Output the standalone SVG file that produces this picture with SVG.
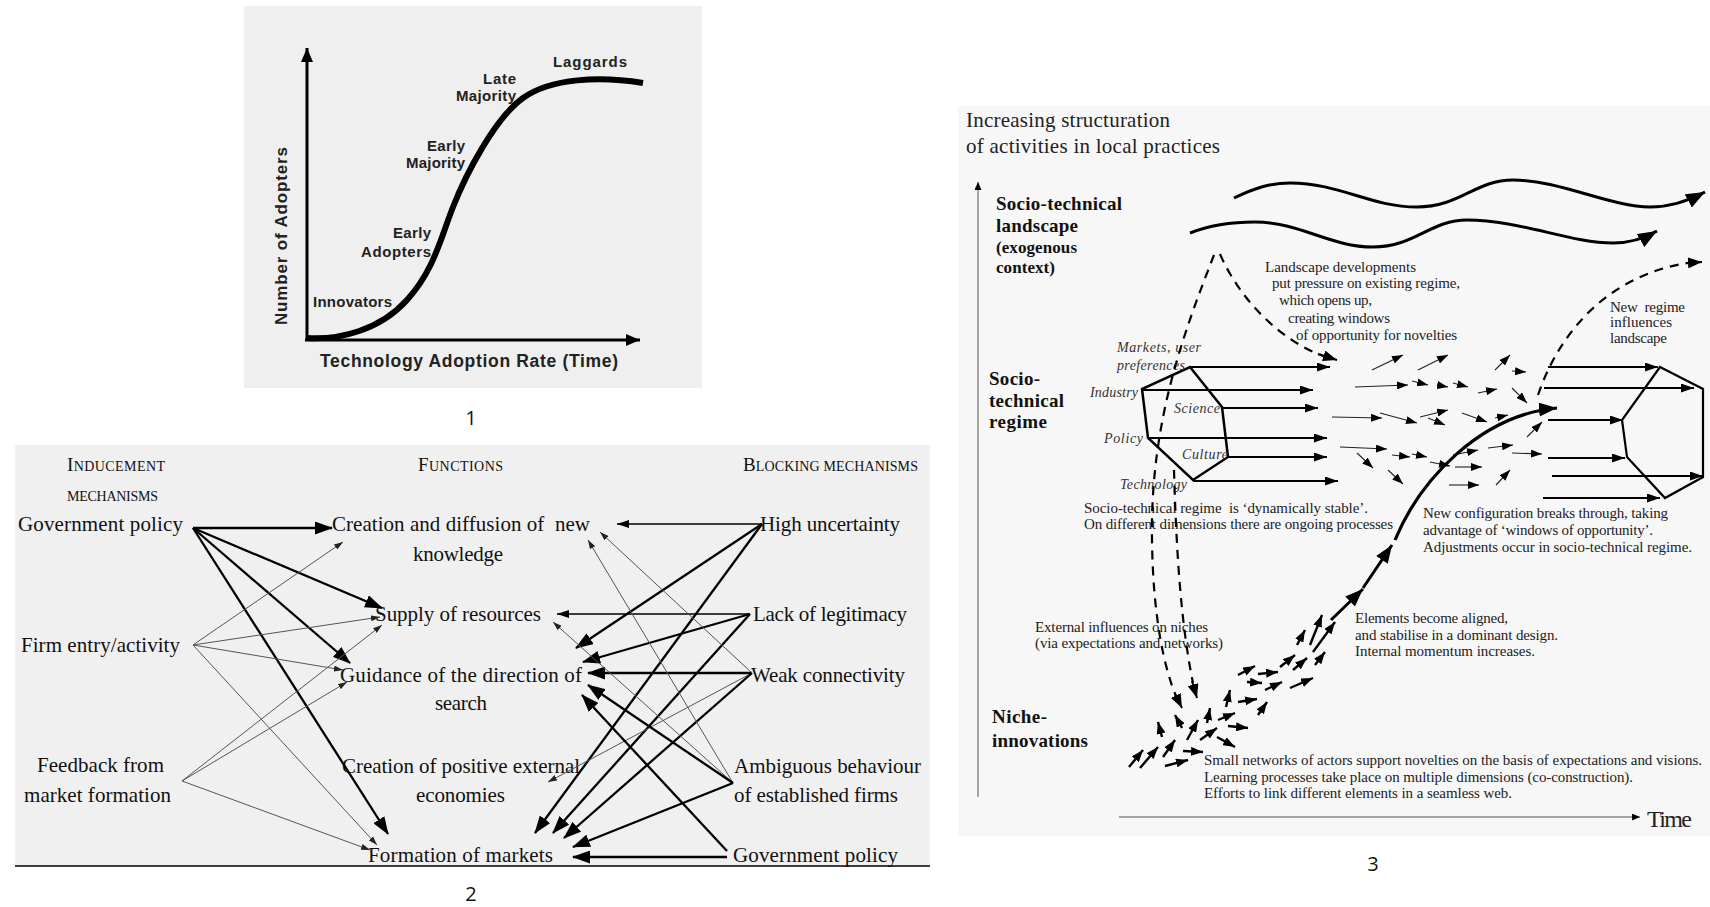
<svg xmlns="http://www.w3.org/2000/svg" width="1710" height="907" viewBox="0 0 1710 907">
<style>
.p1t{font-family:"Liberation Sans",Arial,sans-serif;font-weight:bold;fill:#222}
.p2t{font-family:"Liberation Serif","Times New Roman",serif;font-size:21px;fill:#111}
.p3t{font-family:"Liberation Serif","Times New Roman",serif;font-size:15px;fill:#222}
.p3b{font-family:"Liberation Serif","Times New Roman",serif;font-weight:bold;font-size:19px;fill:#111}
.p3i{font-family:"Liberation Serif","Times New Roman",serif;font-style:italic;font-size:14px;fill:#333}
.cap{font-family:"Open Sans","Liberation Sans",sans-serif;font-size:20px;fill:#111}
.thick{fill:none;stroke:#000;stroke-width:2.3;marker-end:url(#mbig)}
.med{fill:none;stroke:#000;stroke-width:1.6;marker-end:url(#mmed)}
.thin{fill:none;stroke:#555;stroke-width:1;marker-end:url(#mthin)}
.sm{fill:none;stroke:#222;stroke-width:1.1;marker-end:url(#msmall)}
.ni{fill:none;stroke:#000;stroke-width:2.4;marker-end:url(#mniche)}
.hx{fill:none;stroke:#000;stroke-width:2.2;marker-end:url(#mhex)}
.dash{fill:none;stroke:#000;stroke-width:2.2;stroke-dasharray:9 7}
</style>
<defs>
<marker id="mbig" viewBox="0 0 18 13" refX="17" refY="6.5" markerWidth="18" markerHeight="13" markerUnits="userSpaceOnUse" orient="auto"><path d="M0,0 L18,6.5 L0,13 z" fill="#000"/></marker>
<marker id="mmed" viewBox="0 0 12 8" refX="12" refY="4" markerWidth="12" markerHeight="8" markerUnits="userSpaceOnUse" orient="auto"><path d="M0,0 L12,4 L0,8 z" fill="#000"/></marker>
<marker id="mthin" viewBox="0 0 9 6" refX="9" refY="3" markerWidth="9" markerHeight="6" markerUnits="userSpaceOnUse" orient="auto"><path d="M0,0 L9,3 L0,6 z" fill="#222"/></marker>
<marker id="max" viewBox="0 0 14 12" refX="14" refY="6" markerWidth="14" markerHeight="12" markerUnits="userSpaceOnUse" orient="auto"><path d="M0,0 L14,6 L0,12 z" fill="#000"/></marker>
<marker id="mwave" viewBox="0 0 19 15" refX="19" refY="7.5" markerWidth="19" markerHeight="15" markerUnits="userSpaceOnUse" orient="auto"><path d="M0,0 L19,7.5 L0,15 z" fill="#000"/></marker>
<marker id="mdash" viewBox="0 0 14 11" refX="14" refY="5.5" markerWidth="14" markerHeight="11" markerUnits="userSpaceOnUse" orient="auto"><path d="M0,0 L14,5.5 L0,11 z" fill="#000"/></marker>
<marker id="mhex" viewBox="0 0 13 9" refX="13" refY="4.5" markerWidth="13" markerHeight="9" markerUnits="userSpaceOnUse" orient="auto"><path d="M0,0 L13,4.5 L0,9 z" fill="#000"/></marker>
<marker id="msmall" viewBox="0 0 11 8" refX="11" refY="4" markerWidth="11" markerHeight="8" markerUnits="userSpaceOnUse" orient="auto"><path d="M0,0 L11,4 L0,8 z" fill="#000"/></marker>
<marker id="mniche" viewBox="0 0 12 9" refX="12" refY="4.5" markerWidth="12" markerHeight="9" markerUnits="userSpaceOnUse" orient="auto"><path d="M0,0 L12,4.5 L0,9 z" fill="#000"/></marker>
<marker id="mtraj" viewBox="0 0 18 14" refX="18" refY="7" markerWidth="18" markerHeight="14" markerUnits="userSpaceOnUse" orient="auto"><path d="M0,0 L18,7 L0,14 z" fill="#000"/></marker>
<marker id="mtiny" viewBox="0 0 8 7" refX="8" refY="3.5" markerWidth="8" markerHeight="7" markerUnits="userSpaceOnUse" orient="auto"><path d="M0,0 L8,3.5 L0,7 z" fill="#000"/></marker>
</defs>

<rect width="1710" height="907" fill="#fff"/>

<!-- ===== Panel 1 ===== -->
<g id="panel1">
<rect x="244" y="6" width="458" height="382" fill="#efefef"/>
<g id="p1-axes">
<line x1="307" y1="341" x2="307" y2="48" stroke="#000" stroke-width="3" marker-end="url(#max)"/>
<line x1="305" y1="340" x2="640" y2="340" stroke="#000" stroke-width="3" marker-end="url(#max)"/>
</g>
<g id="p1-curve">
<path d="M307,338 C340,340 380,330 407,300 S440,240 453,207 S495,118 523,98 C551,78 600,76 643,83" fill="none" stroke="#000" stroke-width="6"/>
</g>
<g id="p1-labels">
<text class="p1t" x="553" y="67" style="font-size:15px" textLength="74">Laggards</text>
<text class="p1t" x="483" y="84" style="font-size:15px" textLength="33">Late</text>
<text class="p1t" x="456" y="101" style="font-size:15px" textLength="60">Majority</text>
<text class="p1t" x="427" y="151" style="font-size:15px" textLength="38">Early</text>
<text class="p1t" x="406" y="168" style="font-size:15px" textLength="59">Majority</text>
<text class="p1t" x="393" y="238" style="font-size:15px" textLength="38">Early</text>
<text class="p1t" x="361" y="257" style="font-size:15px" textLength="70">Adopters</text>
<text class="p1t" x="313" y="307" style="font-size:15px" textLength="79">Innovators</text>
<text class="p1t" x="320" y="367" style="font-size:17.5px" textLength="298">Technology Adoption Rate (Time)</text>
<text class="p1t" transform="translate(287,325) rotate(-90)" style="font-size:17px" textLength="178">Number of Adopters</text>
</g>
</g>
<text class="cap" x="471" y="425" text-anchor="middle">1</text>

<!-- ===== Panel 2 ===== -->
<g id="panel2">
<rect x="15" y="445" width="915" height="421" fill="#f0f0f0"/>
<line x1="15" y1="866" x2="930" y2="866" stroke="#000" stroke-width="1.5"/>

<g id="p2-headers">
<text class="p2t" x="67" y="471" textLength="98"><tspan style="font-size:19px">I</tspan><tspan style="font-size:14px">NDUCEMENT</tspan></text>
<text class="p2t" x="67" y="501" style="font-size:14px" textLength="91">MECHANISMS</text>
<text class="p2t" x="418" y="471" textLength="85"><tspan style="font-size:19px">F</tspan><tspan style="font-size:14px">UNCTIONS</tspan></text>
<text class="p2t" x="743" y="471" textLength="175"><tspan style="font-size:19px">B</tspan><tspan style="font-size:14px">LOCKING MECHANISMS</tspan></text>
</g>

<g id="ind-gov"><text class="p2t" x="18" y="531" textLength="165">Government policy</text></g>
<g id="ind-firm"><text class="p2t" x="21" y="652" textLength="159">Firm entry/activity</text></g>
<g id="ind-feedback"><text class="p2t" x="37" y="772" textLength="127">Feedback from</text><text class="p2t" x="24" y="802" textLength="147">market formation</text></g>

<g id="fn-knowledge"><text class="p2t" x="332" y="531" textLength="258" xml:space="preserve">Creation and diffusion of  new</text><text class="p2t" x="413" y="561" textLength="90">knowledge</text></g>
<g id="fn-resources"><text class="p2t" x="375" y="621" textLength="166">Supply of resources</text></g>
<g id="fn-guidance"><text class="p2t" x="340" y="682" textLength="242">Guidance of the direction of</text><text class="p2t" x="435" y="710" textLength="52">search</text></g>
<g id="fn-external"><text class="p2t" x="342" y="773" textLength="238">Creation of positive external</text><text class="p2t" x="416" y="802" textLength="89">economies</text></g>
<g id="fn-markets"><text class="p2t" x="368" y="862" textLength="185">Formation of markets</text></g>

<g id="bl-uncertainty"><text class="p2t" x="760" y="531" textLength="140">High uncertainty</text></g>
<g id="bl-legitimacy"><text class="p2t" x="753" y="621" textLength="154">Lack of legitimacy</text></g>
<g id="bl-connectivity"><text class="p2t" x="751" y="682" textLength="154">Weak connectivity</text></g>
<g id="bl-ambiguous"><text class="p2t" x="734" y="773" textLength="187">Ambiguous behaviour</text><text class="p2t" x="734" y="802" textLength="164">of established firms</text></g>
<g id="bl-gov"><text class="p2t" x="733" y="862" textLength="165">Government policy</text></g>

<g id="p2-connectors">
<line class="thick" x1="193" y1="528" x2="332" y2="528"/>
<line class="thick" x1="193" y1="528" x2="382" y2="608"/>
<line class="thick" x1="193" y1="528" x2="350" y2="663"/>
<line class="thick" x1="193" y1="528" x2="388" y2="834"/>
<line class="thin" x1="193" y1="645" x2="343" y2="542"/>
<line class="thin" x1="193" y1="645" x2="380" y2="617"/>
<line class="thin" x1="193" y1="645" x2="343" y2="670"/>
<line class="thin" x1="193" y1="645" x2="377" y2="845"/>
<line class="thin" x1="182" y1="781" x2="382" y2="625"/>
<line class="thin" x1="182" y1="781" x2="347" y2="682"/>
<line class="thin" x1="182" y1="781" x2="370" y2="850"/>

<line class="med" x1="762" y1="524" x2="617" y2="524"/>
<line class="thick" x1="762" y1="524" x2="576" y2="648"/>
<line class="thick" x1="762" y1="524" x2="535" y2="833"/>
<line class="med" x1="750" y1="614" x2="557" y2="614"/>
<line class="thick" x1="750" y1="614" x2="583" y2="662"/>
<line class="thick" x1="750" y1="614" x2="553" y2="833"/>
<line class="thick" x1="752" y1="673" x2="588" y2="673"/>
<line class="thin" x1="752" y1="673" x2="548" y2="782"/>
<line class="thick" x1="752" y1="673" x2="564" y2="838"/>
<line class="thin" x1="752" y1="673" x2="600" y2="532"/>
<line class="thin" x1="733" y1="783" x2="588" y2="540"/>
<line class="thin" x1="733" y1="783" x2="553" y2="622"/>
<line class="thick" x1="733" y1="783" x2="588" y2="685"/>
<line class="thick" x1="733" y1="783" x2="573" y2="847"/>
<line class="thick" x1="727" y1="851" x2="582" y2="695"/>
<line class="thick" x1="727" y1="857" x2="573" y2="857"/>
</g>
</g>
<text class="cap" x="471" y="901" text-anchor="middle">2</text>

<!-- ===== Panel 3 ===== -->
<g id="panel3">
<rect x="958" y="106" width="752" height="730" fill="#f7f7f7"/>

<g id="p3-axes">
<line x1="978" y1="797" x2="978" y2="182" stroke="#888" stroke-width="1.5" marker-end="url(#mtiny)"/>
<line x1="1119" y1="817" x2="1640" y2="817" stroke="#888" stroke-width="1.5" marker-end="url(#mtiny)"/>
<text class="p3t" x="1647" y="827" style="font-size:24px" textLength="45">Time</text>
</g>

<g id="p3-title">
<text class="p3t" x="966" y="127" style="font-size:21px" textLength="204">Increasing structuration</text>
<text class="p3t" x="966" y="153" style="font-size:21px" textLength="254">of activities in local practices</text>
</g>

<g id="landscape">
<text class="p3b" x="996" y="210" textLength="126">Socio-technical</text>
<text class="p3b" x="996" y="232" textLength="82">landscape</text>
<text class="p3b" x="996" y="253" style="font-size:17px" textLength="81">(exogenous</text>
<text class="p3b" x="996" y="273" style="font-size:17px" textLength="59">context)</text>
</g>
<g id="regime-label">
<text class="p3b" x="989" y="385" textLength="51">Socio-</text>
<text class="p3b" x="989" y="407" textLength="75">technical</text>
<text class="p3b" x="989" y="428" textLength="58">regime</text>
</g>
<g id="niche-label">
<text class="p3b" x="992" y="723" textLength="55">Niche-</text>
<text class="p3b" x="992" y="747" textLength="96">innovations</text>
</g>

<g id="waves">
<path d="M1234,198 C1255,188 1270,183 1290,183 C1340,183 1370,207 1417,207 C1460,207 1475,180 1513,180 C1560,180 1610,207 1650,207 C1672,207 1690,200 1705,192" fill="none" stroke="#000" stroke-width="3" marker-end="url(#mwave)"/>
<path d="M1190,233 C1210,225 1230,222 1255,222 C1300,222 1330,247 1373,247 C1415,247 1430,220 1467,220 C1520,220 1570,243 1613,243 C1630,243 1645,238 1657,231" fill="none" stroke="#000" stroke-width="3" marker-end="url(#mwave)"/>
</g>

<g id="landscape-text">
<text class="p3t" x="1265" y="272" textLength="151">Landscape developments</text>
<text class="p3t" x="1272" y="288" textLength="188">put pressure on existing regime,</text>
<text class="p3t" x="1279" y="305" textLength="93">which opens up,</text>
<text class="p3t" x="1288" y="323" textLength="102">creating windows</text>
<text class="p3t" x="1296" y="340" textLength="161">of opportunity for novelties</text>
</g>

<g id="regime-hexagon">
<polygon points="1190,367 1222,407 1228,457 1193,480 1148,438 1142,389" fill="none" stroke="#000" stroke-width="2.5" stroke-linejoin="miter"/>
<text class="p3i" x="1117" y="352" textLength="84">Markets, user</text>
<text class="p3i" x="1117" y="370" textLength="68">preferences</text>
<text class="p3i" x="1090" y="397" textLength="48">Industry</text>
<text class="p3i" x="1174" y="413" textLength="46">Science</text>
<text class="p3i" x="1104" y="443" textLength="39">Policy</text>
<text class="p3i" x="1182" y="459" textLength="46">Culture</text>
<text class="p3i" x="1120" y="489" textLength="67">Technology</text>
</g>

<g id="regime-text">
<text class="p3t" x="1084" y="513" textLength="284" xml:space="preserve">Socio-technical regime  is ‘dynamically stable’.</text>
<text class="p3t" x="1084" y="529" textLength="309">On different dimensions there are ongoing processes</text>
</g>

<g id="new-regime-hexagon">
<polygon points="1660,367 1703,389 1703,477 1665,498 1627,457 1622,420" fill="none" stroke="#000" stroke-width="2.2"/>
</g>
<g id="new-regime-text">
<text class="p3t" x="1610" y="312" textLength="75" xml:space="preserve">New  regime</text>
<text class="p3t" x="1610" y="327" textLength="62">influences</text>
<text class="p3t" x="1610" y="343" textLength="57">landscape</text>
</g>
<g id="breakthrough-text">
<text class="p3t" x="1423" y="518" textLength="245">New configuration breaks through, taking</text>
<text class="p3t" x="1423" y="535" textLength="230">advantage of ‘windows of opportunity’.</text>
<text class="p3t" x="1423" y="552" textLength="269">Adjustments occur in socio-technical regime.</text>
</g>
<g id="aligned-text">
<text class="p3t" x="1355" y="623" textLength="153">Elements become aligned,</text>
<text class="p3t" x="1355" y="640" textLength="203">and stabilise in a dominant design.</text>
<text class="p3t" x="1355" y="656" textLength="180">Internal momentum increases.</text>
</g>
<g id="external-text">
<text class="p3t" x="1035" y="632" textLength="173">External influences on niches</text>
<text class="p3t" x="1035" y="648" textLength="188">(via expectations and networks)</text>
</g>
<g id="niche-text">
<text class="p3t" x="1204" y="765" textLength="498">Small networks of actors support novelties on the basis of expectations and visions.</text>
<text class="p3t" x="1204" y="782" textLength="429">Learning processes take place on multiple dimensions (co-construction).</text>
<text class="p3t" x="1204" y="798" textLength="308">Efforts to link different elements in a seamless web.</text>
</g>

<g id="p3-connectors">
<!-- regime outputs -->
<line class="hx" x1="1190" y1="367" x2="1330" y2="367"/>
<line class="hx" x1="1142" y1="390" x2="1313" y2="390"/>
<line class="hx" x1="1222" y1="408" x2="1318" y2="408"/>
<line class="hx" x1="1148" y1="438" x2="1327" y2="438"/>
<line class="hx" x1="1228" y1="457" x2="1327" y2="457"/>
<line class="hx" x1="1193" y1="481" x2="1338" y2="481"/>
<!-- new regime inputs -->
<line class="hx" x1="1548" y1="367" x2="1658" y2="367"/>
<line class="hx" x1="1544" y1="388" x2="1694" y2="388"/>
<line class="hx" x1="1548" y1="420" x2="1623" y2="420"/>
<line class="hx" x1="1548" y1="458" x2="1625" y2="458"/>
<line class="hx" x1="1552" y1="476" x2="1703" y2="476"/>
<line class="hx" x1="1543" y1="498" x2="1660" y2="498"/>
<!-- dashed arrows -->
<path class="dash" d="M1220,254 C1240,300 1280,340 1323,356"/>
<line x1="1318" y1="354" x2="1337" y2="360" stroke="#000" stroke-width="2" marker-end="url(#mdash)"/>
<path class="dash" d="M1214,255 C1185,330 1150,420 1152,540 C1153,620 1165,670 1176,696"/>
<line x1="1175" y1="694" x2="1182" y2="708" stroke="#000" stroke-width="2" marker-end="url(#mdash)"/>
<path class="dash" d="M1174,470 C1176,540 1180,620 1193,683"/>
<line x1="1192" y1="681" x2="1197" y2="698" stroke="#000" stroke-width="2" marker-end="url(#mdash)"/>
<path class="dash" d="M1538,395 C1560,330 1610,275 1688,263"/>
<line x1="1686" y1="263" x2="1702" y2="262" stroke="#000" stroke-width="2" marker-end="url(#mdash)"/>
<!-- small regime arrows -->
<line class="sm" x1="1372" y1="370" x2="1403" y2="355"/>
<line class="sm" x1="1418" y1="370" x2="1448" y2="355"/>
<line class="sm" x1="1495" y1="370" x2="1510" y2="355"/>
<line class="sm" x1="1512" y1="371" x2="1526" y2="372"/>
<line class="sm" x1="1355" y1="387" x2="1408" y2="385"/>
<line class="sm" x1="1412" y1="381" x2="1428" y2="385"/>
<line class="sm" x1="1437" y1="385" x2="1448" y2="387"/>
<line class="sm" x1="1453" y1="383" x2="1468" y2="387"/>
<line class="sm" x1="1478" y1="393" x2="1497" y2="389"/>
<line class="sm" x1="1512" y1="388" x2="1527" y2="403"/>
<line class="sm" x1="1332" y1="417" x2="1382" y2="418"/>
<line class="sm" x1="1380" y1="413" x2="1417" y2="423"/>
<line class="sm" x1="1420" y1="417" x2="1448" y2="410"/>
<line class="sm" x1="1428" y1="418" x2="1445" y2="425"/>
<line class="sm" x1="1462" y1="413" x2="1487" y2="422"/>
<line class="sm" x1="1495" y1="418" x2="1508" y2="415"/>
<line class="sm" x1="1527" y1="437" x2="1542" y2="422"/>
<line class="sm" x1="1340" y1="447" x2="1387" y2="449"/>
<line class="sm" x1="1392" y1="455" x2="1410" y2="457"/>
<line class="sm" x1="1412" y1="454" x2="1427" y2="457"/>
<line class="sm" x1="1357" y1="453" x2="1373" y2="468"/>
<line class="sm" x1="1388" y1="470" x2="1403" y2="484"/>
<line class="sm" x1="1430" y1="462" x2="1450" y2="466"/>
<line class="sm" x1="1453" y1="455" x2="1478" y2="450"/>
<line class="sm" x1="1488" y1="448" x2="1513" y2="445"/>
<line class="sm" x1="1512" y1="453" x2="1542" y2="454"/>
<line class="sm" x1="1455" y1="467" x2="1482" y2="467"/>
<line class="sm" x1="1449" y1="485" x2="1479" y2="485"/>
<line class="sm" x1="1496" y1="485" x2="1510" y2="470"/>
<!-- niche arrows -->
<line class="ni" x1="1129" y1="767" x2="1143" y2="750"/>
<line class="ni" x1="1140" y1="768" x2="1158" y2="747"/>
<line class="ni" x1="1163" y1="757" x2="1175" y2="740"/>
<line class="ni" x1="1165" y1="766" x2="1188" y2="760"/>
<line class="ni" x1="1183" y1="751" x2="1203" y2="752"/>
<line class="ni" x1="1162" y1="737" x2="1158" y2="722"/>
<line class="ni" x1="1182" y1="728" x2="1175" y2="715"/>
<line class="ni" x1="1187" y1="740" x2="1198" y2="720"/>
<line class="ni" x1="1200" y1="740" x2="1217" y2="728"/>
<line class="ni" x1="1217" y1="737" x2="1235" y2="747"/>
<line class="ni" x1="1207" y1="723" x2="1210" y2="708"/>
<line class="ni" x1="1218" y1="720" x2="1235" y2="713"/>
<line class="ni" x1="1228" y1="726" x2="1248" y2="728"/>
<line class="ni" x1="1226" y1="707" x2="1230" y2="690"/>
<line class="ni" x1="1238" y1="702" x2="1257" y2="699"/>
<line class="ni" x1="1258" y1="715" x2="1267" y2="702"/>
<line class="ni" x1="1238" y1="675" x2="1255" y2="666"/>
<line class="ni" x1="1247" y1="682" x2="1262" y2="683"/>
<line class="ni" x1="1258" y1="674" x2="1278" y2="672"/>
<line class="ni" x1="1265" y1="690" x2="1282" y2="682"/>
<line class="ni" x1="1280" y1="667" x2="1295" y2="655"/>
<line class="ni" x1="1290" y1="688" x2="1313" y2="678"/>
<line class="ni" x1="1293" y1="670" x2="1307" y2="658"/>
<line class="ni" x1="1315" y1="665" x2="1325" y2="652"/>
<line class="ni" x1="1297" y1="645" x2="1305" y2="630"/>
<line class="ni" x1="1310" y1="645" x2="1322" y2="615"/>
<line class="ni" x1="1313" y1="652" x2="1335" y2="622"/>
<!-- main trajectory -->
<line x1="1331" y1="620" x2="1363" y2="589" stroke="#000" stroke-width="3" marker-end="url(#mtraj)"/>
<line x1="1363" y1="588" x2="1392" y2="545" stroke="#000" stroke-width="3" marker-end="url(#mtraj)"/>
<path d="M1395,540 C1420,480 1480,415 1557,408" fill="none" stroke="#000" stroke-width="3.2" marker-end="url(#mtraj)"/>
</g>
</g>
<text class="cap" x="1373" y="871" text-anchor="middle">3</text>
</svg>
